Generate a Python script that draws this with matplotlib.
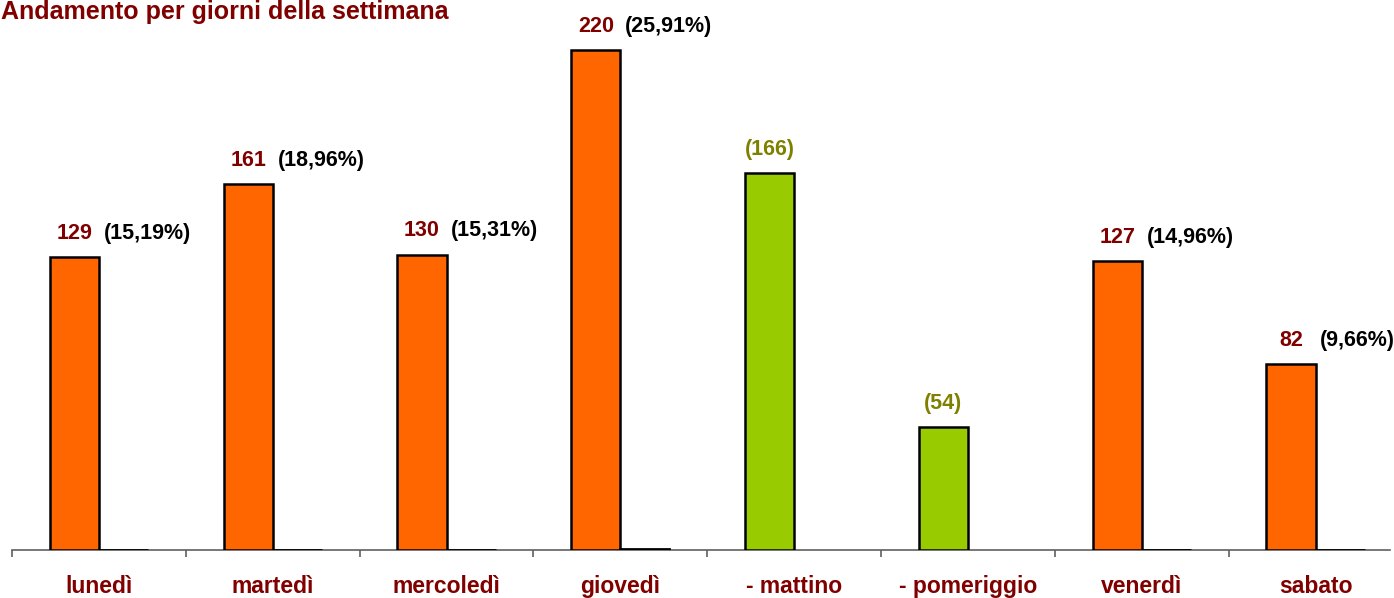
import numpy as np
import matplotlib
matplotlib.use("Agg")
from matplotlib import pyplot as plt
from matplotlib import transforms

plt.rcParams['font.family'] = ['Liberation Sans', 'DejaVu Sans']
plt.rcParams['font.weight'] = 'bold'

# data
categories = ['lunedì', 'martedì', 'mercoledì', 'giovedì',
              '- mattino', '- pomeriggio', 'venerdì', 'sabato']
counts = [129, 161, 130, 220, 166, 54, 127, 82]
percent = [15.19, 18.96, 15.31, 25.91, None, None, 14.96, 9.66]
percent_text = ['(15,19%)', '(18,96%)', '(15,31%)', '(25,91%)', '', '', '(14,96%)', '(9,66%)']
is_sub = [False, False, False, False, True, True, False, False]

fig = plt.figure(figsize=(13.94, 5.98), dpi=100)
ax = fig.add_axes([12 / 1394, 48 / 598, 1378 / 1394, 540 / 598])

x = np.arange(len(categories))
w = 0.282
colors = ['#99CC00' if s else '#FF6600' for s in is_sub]
ax.bar(x - w / 2, counts, w, color=colors, edgecolor='black', linewidth=1.8, zorder=3)

# second series: percentages as fractions, shows as flat lines on the baseline
pct_x = [i + w / 2 for i, p in enumerate(percent) if p is not None]
pct_v = [p / 100 for p in percent if p is not None]
ax.bar(pct_x, pct_v, w, color='white', edgecolor='black', linewidth=2, zorder=3)

for i, c in enumerate(counts):
    if is_sub[i]:
        ax.annotate(f'({c})', (i - w / 2, c), xytext=(0, 13), textcoords='offset points',
                    ha='center', va='baseline', color='#808000', fontsize=15.5, fontweight='bold')
    else:
        ax.annotate(str(c), (i - w / 2, c), xytext=(0, 13), textcoords='offset points',
                    ha='center', va='baseline', color='#800000', fontsize=15.5, fontweight='bold')
        ax.annotate(percent_text[i], (i, c), xytext=(3.5, 13), textcoords='offset points',
                    ha='left', va='baseline', color='black', fontsize=15.5, fontweight='bold')

ax.set_xlim(-0.5, -0.5 + 1378 / 173.8)
ax.set_ylim(0, 540 / (500 / 220))

for s in ['top', 'right', 'left']:
    ax.spines[s].set_visible(False)
ax.spines['bottom'].set_color('#606060')
ax.spines['bottom'].set_linewidth(1.2)
ax.set_yticks([])
ax.set_xticks(np.arange(-0.5, 7.0, 1.0))
ax.tick_params(axis='x', direction='out', length=5, width=1.2, color='#606060', labelbottom=False)

trans = transforms.blended_transform_factory(ax.transData, ax.transAxes)
for i, name in enumerate(categories):
    ax.text(i, -0.079, name, transform=trans, ha='center', va='baseline',
            color='#800000', fontsize=16.5, fontweight='bold')

fig.text(0.001, 1 - 19 / 598, 'Andamento per giorni della settimana', ha='left', va='baseline',
         color='#800000', fontsize=18, fontweight='bold')

fig.savefig('out.png', dpi=100)
